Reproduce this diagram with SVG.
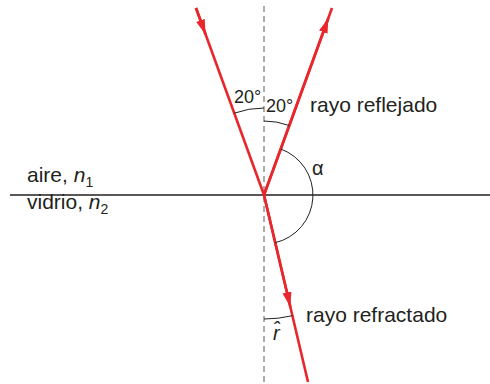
<svg xmlns="http://www.w3.org/2000/svg" width="490" height="384" viewBox="0 0 490 384">
<style>
.ray{stroke:#e8262b;stroke-width:2.6;fill:none}
.arc{stroke:#231f20;stroke-width:1;fill:none}
.t{font-family:"Liberation Sans",Arial,sans-serif;fill:#231f20}
</style>
<defs>
<marker id="ah" markerUnits="userSpaceOnUse" markerWidth="16" markerHeight="10" refX="15" refY="4.5" orient="auto">
<path d="M0,0 L15,4.5 L0,9 z" fill="#e8262b"/>
</marker>
</defs>
<rect width="490" height="384" fill="#fff"/>
<g id="normal"><line x1="264" y1="6" x2="264" y2="384" stroke="#777" stroke-width="1.2" stroke-dasharray="6,4"/></g>
<g id="interface"><line x1="10" y1="195" x2="490" y2="195" stroke="#231f20" stroke-width="1.4"/></g>
<g id="connectors">
<line class="ray" x1="196" y1="8" x2="264" y2="195"/>
<path class="ray" d="M196,8 L205.6,34.5" marker-end="url(#ah)"/>
<line class="ray" x1="264" y1="195" x2="332" y2="8"/>
<path class="ray" d="M264,195 L328.4,18" marker-end="url(#ah)"/>
<line class="ray" x1="264" y1="195" x2="308" y2="382"/>
<path class="ray" d="M264,195 L290.4,307" marker-end="url(#ah)"/>
</g>
<g id="arcs">
<path class="arc" d="M234.2,113.2 A87,87 0 0 1 264,108"/>
<path class="arc" d="M264,121 A74,74 0 0 1 289.3,125.5"/>
<path class="arc" d="M280.8,149 A49,49 0 0 1 275.2,242.7"/>
<path class="arc" d="M264,319 A124,124 0 0 0 292.4,315.7"/>
</g>
<g id="labels">
<text class="t" x="234" y="103" font-size="18">20°</text>
<text class="t" x="266" y="112" font-size="18">20°</text>
<text class="t" x="310" y="112" font-size="21">rayo reflejado</text>
<text class="t" x="312" y="175" font-size="20">α</text>
<text class="t" x="27" y="182" font-size="21">aire, <tspan font-style="italic">n</tspan><tspan font-size="14" dy="5">1</tspan></text>
<text class="t" x="27" y="209" font-size="21">vidrio, <tspan font-style="italic">n</tspan><tspan font-size="14" dy="5">2</tspan></text>
<text class="t" x="306" y="322" font-size="21">rayo refractado</text>
<text class="t" x="273" y="340" font-size="20" font-style="italic">r̂</text>
</g>
</svg>
